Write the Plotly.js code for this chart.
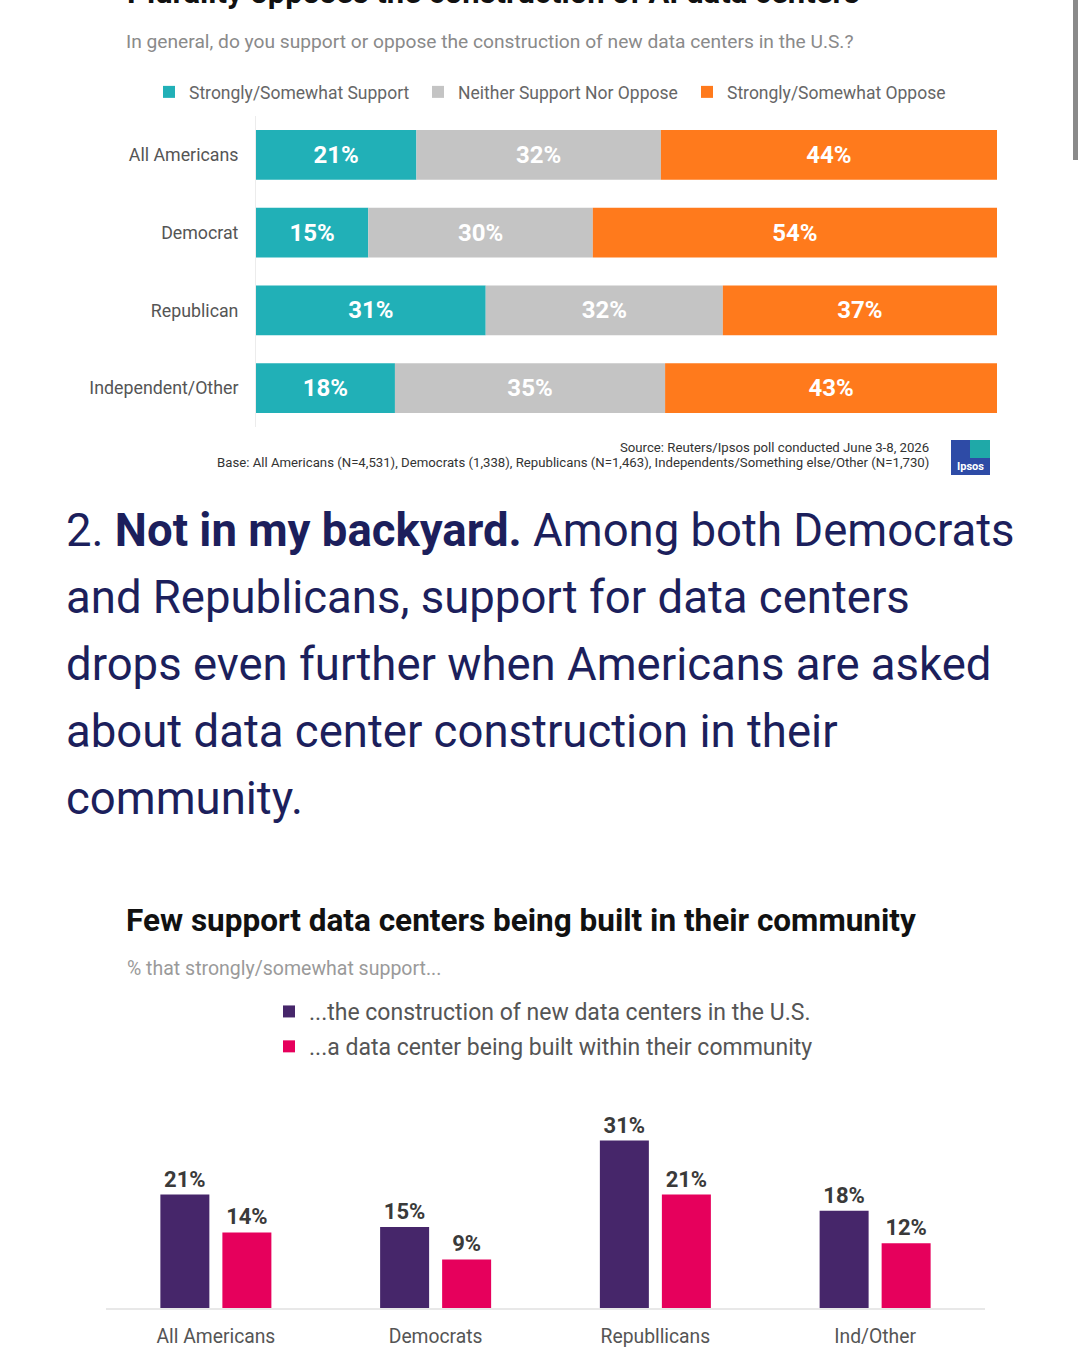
<!DOCTYPE html>
<html>
<head>
<meta charset="utf-8">
<script src="https://cdn.plot.ly/plotly-3.0.1.min.js"></script>
<style>html,body{margin:0;padding:0;background:#fff;}#chart{width:1080px;height:1350px;}</style>
</head>
<body>
<div id="chart"></div>
<script>
// ---- Data: chart 1 (stacked horizontal bars) ----
const groups1 = ["All Americans", "Democrat", "Republican", "Independent/Other"];
const supportVals = [21, 15, 31, 18];
const neitherVals = [32, 30, 32, 35];
const opposeVals = [44, 54, 37, 43];
const seriesNames1 = ["Strongly/Somewhat Support", "Neither Support Nor Oppose", "Strongly/Somewhat Oppose"];

// ---- Data: chart 2 (grouped vertical bars) ----
const groups2 = ["All Americans", "Democrats", "Republlicans", "Ind/Other"];
const nationalVals = [21, 15, 31, 18];
const communityVals = [14, 9, 21, 12];
const seriesNames2 = ["...the construction of new data centers in the U.S.", "...a data center being built within their community"];

// ---- Text ----
const paragraphLines = [
  "2. <b>Not in my backyard.</b> Among both Democrats",
  "and Republicans, support for data centers",
  "drops even further when Americans are asked",
  "about data center construction in their",
  "community."
];

const W = 1080, H = 1350;
const px = x => x / W;
const py = y => 1 - y / H;

const FONT = "Roboto, 'Open Sans', sans-serif";
const COLORS1 = ["#21B0B7", "#C4C4C4", "#FF7A1C"];
const COLORS2 = ["#46266A", "#E6005C"];

// normalise each row to 100% (the original chart scales each row to full width)
const totals = groups1.map((_, i) => supportVals[i] + neitherVals[i] + opposeVals[i]);
const series1 = [supportVals, neitherVals, opposeVals];
const traces = [];
let bases = groups1.map(() => 0);
series1.forEach((vals, k) => {
  const norm = vals.map((v, i) => v / totals[i] * 100);
  traces.push({
    type: "bar", orientation: "h",
    y: groups1, x: norm, base: bases.slice(),
    width: 0.643,
    name: seriesNames1[k],
    marker: {color: COLORS1[k], line: {width: 0}},
    text: vals.map(v => v + "%"),
    textposition: "inside", insidetextanchor: "middle",
    textfont: {family: FONT, size: 24, color: "#ffffff", weight: 700},
    hoverinfo: "skip",
    xaxis: "x", yaxis: "y", legend: "legend"
  });
  bases = bases.map((b, i) => b + norm[i]);
});

const barW = 0.223;
const offs = [-0.2526, 0.0296];
[nationalVals, communityVals].forEach((vals, k) => {
  traces.push({
    type: "bar",
    x: groups2, y: vals,
    width: barW, offset: offs[k],
    name: seriesNames2[k],
    marker: {color: COLORS2[k], line: {width: 0}},
    text: vals.map(v => v + "%"),
    textposition: "outside",
    textfont: {family: FONT, size: 22, color: "#3A3A3A", weight: 700},
    cliponaxis: false,
    hoverinfo: "skip",
    xaxis: "x2", yaxis: "y2", legend: "legend2",
    legendgroup: "g" + k
  });
});

const annotations = [
  {text: "<b>Plurality opposes the construction of AI data centers</b>", x: px(125), y: py(-8), xanchor: "left", yanchor: "middle",
   font: {family: FONT, size: 31, color: "#111"}},
  {text: "In general, do you support or oppose the construction of new data centers in the U.S.?", x: px(124), y: py(42), xanchor: "left", yanchor: "middle",
   font: {family: FONT, size: 19.2, color: "#8a8a8a"}},
  {text: "Source: Reuters/Ipsos poll conducted June 3-8, 2026", x: px(931), y: py(447), xanchor: "right", yanchor: "middle",
   font: {family: FONT, size: 13.2, color: "#333"}},
  {text: "Base: All Americans (N=4,531), Democrats (1,338), Republicans (N=1,463), Independents/Something else/Other (N=1,730)", x: px(931), y: py(463), xanchor: "right", yanchor: "middle",
   font: {family: FONT, size: 13.2, color: "#333"}},
  {text: "<b>Ipsos</b>", x: px(970), y: py(466), xanchor: "center", yanchor: "middle",
   font: {family: FONT, size: 11, color: "#fff"}},
  {text: "<b>Few support data centers being built in their community</b>", x: px(124), y: py(920), xanchor: "left", yanchor: "middle",
   font: {family: FONT, size: 31.5, color: "#111"}},
  {text: "% that strongly/somewhat support...", x: px(125), y: py(968), xanchor: "left", yanchor: "middle",
   font: {family: FONT, size: 19.5, color: "#9a9a9a"}}
];
const lineY = [530, 597, 664, 731, 798];
paragraphLines.forEach((t, i) => {
  annotations.push({text: t, x: px(64), y: py(lineY[i]), xanchor: "left", yanchor: "middle",
    font: {family: FONT, size: 45.5, color: "#1C1F5C"}});
});
annotations.forEach(a => { a.xref = "paper"; a.yref = "paper"; a.showarrow = false; });

const shapes = [
  {type: "rect", xref: "paper", yref: "paper", x0: px(951), x1: px(990), y0: py(475), y1: py(440), fillcolor: "#2E4BA6", line: {width: 0}},
  {type: "rect", xref: "paper", yref: "paper", x0: px(970), x1: px(990), y0: py(458), y1: py(440), fillcolor: "#1FA9A8", line: {width: 0}},
  {type: "rect", xref: "paper", yref: "paper", x0: px(1073), x1: px(1078), y0: py(160), y1: py(0), fillcolor: "#8a8a8a", line: {width: 0}}
];

const layout = {
  width: W, height: H,
  margin: {l: 0, r: 0, t: 0, b: 0},
  paper_bgcolor: "#fff", plot_bgcolor: "#fff",
  barmode: "overlay",
  font: {family: FONT, color: "#555"},
  xaxis: {domain: [px(256), px(997)], range: [0, 100], anchor: "y", visible: false, fixedrange: true},
  yaxis: {domain: [py(427), py(116)], anchor: "x", type: "category", range: [3.5, -0.5],
    showgrid: false, zeroline: false, showline: true, linecolor: "#ececec", linewidth: 1,
    ticks: "", ticklabelstandoff: 13, tickfont: {family: FONT, size: 17.8, color: "#555"}},
  xaxis2: {domain: [px(106), px(985)], anchor: "y2", type: "category", range: [-0.5, 3.5],
    showgrid: false, zeroline: false, showline: true, linecolor: "#e8e8e8", linewidth: 1.5,
    ticks: "", ticklabelstandoff: 10, tickfont: {family: FONT, size: 19.3, color: "#555"}},
  yaxis2: {domain: [py(1308), py(1119)], anchor: "x2", range: [0, 35], visible: false},
  legend: {orientation: "h", x: px(149), y: py(74), xanchor: "left", yanchor: "top",
    entrywidth: 224, entrywidthmode: "pixels",
    font: {family: FONT, size: 17.5, color: "#666"}, bgcolor: "rgba(0,0,0,0)", itemclick: false, itemdoubleclick: false},
  legend2: {orientation: "v", x: px(269), y: py(990), xanchor: "left", yanchor: "top", traceorder: "grouped", tracegroupgap: 2,
    font: {family: FONT, size: 23, color: "#555"}, bgcolor: "rgba(0,0,0,0)", itemclick: false, itemdoubleclick: false},
  annotations: annotations,
  shapes: shapes
};

Plotly.newPlot("chart", traces, layout, {displayModeBar: false, staticPlot: true});
</script>
</body>
</html>
